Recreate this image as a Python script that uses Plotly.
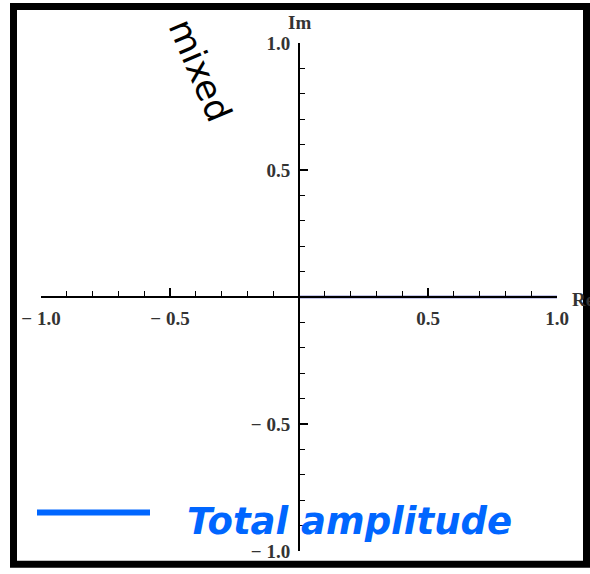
import plotly.graph_objects as go

# Complex-plane amplitude: a single segment from the origin along the real axis
re_vals = [0.0, 1.0]
im_vals = [0.0, 0.0]

major_vals = [-1.0, -0.5, 0.5, 1.0]
major_text = ["\u2212 1.0", "\u2212 0.5", "0.5", "1.0"]
minor_vals = [-0.9, -0.8, -0.7, -0.6, -0.4, -0.3, -0.2, -0.1,
              0.1, 0.2, 0.3, 0.4, 0.6, 0.7, 0.8, 0.9]

series_name = "Total amplitude"
panel_label = "mixed"

W, H = 590, 574
ML, MR, MT, MB = 41, 33, 43, 17
PW, PH = W - ML - MR, H - MT - MB


def px_x(p):
    return (p - ML) / PW


def px_y(p):
    return (H - MB - p) / PH


tick_font = dict(family="Liberation Serif", size=19, color="#333333",
                 weight="bold")

fig = go.Figure()
fig.add_trace(go.Scatter(
    x=re_vals, y=im_vals, mode="lines", name=series_name,
    line=dict(color="#1f22a8", width=2.5), showlegend=False,
))

axis_common = dict(
    range=[-1, 1], showgrid=False, zeroline=False,
    showline=True, linecolor="black", linewidth=2,
    anchor="free", position=0.5,
    tickvals=major_vals, ticktext=major_text,
    ticks="inside", ticklen=8, tickwidth=1.5, tickcolor="black",
    tickfont=tick_font,
    minor=dict(tickvals=minor_vals, ticks="inside", ticklen=5,
               tickwidth=1.2, tickcolor="black"),
    fixedrange=True,
)

fig.update_layout(
    width=W, height=H, autosize=False,
    margin=dict(l=ML, r=MR, t=MT, b=MB),
    paper_bgcolor="white", plot_bgcolor="white",
    xaxis=dict(**axis_common, side="bottom", ticklabelstandoff=4),
    yaxis=dict(**axis_common, side="left", ticklabelstandoff=4),
    showlegend=False,
)

# Axis names
fig.add_annotation(x=0, y=1, xref="x", yref="y", text="Im", showarrow=False,
                   xanchor="center", yanchor="bottom", yshift=8,
                   font=tick_font)
fig.add_annotation(x=1, y=0, xref="x", yref="y", text="Re", showarrow=False,
                   xanchor="left", yanchor="middle", xshift=13, yshift=-2,
                   font=tick_font)

# Rotated panel label
fig.add_annotation(x=px_x(200), y=px_y(70), xref="paper", yref="paper",
                   text=panel_label, showarrow=False, textangle=67,
                   xanchor="center", yanchor="middle",
                   font=dict(family="DejaVu Sans", size=35, color="black"))

# Legend key and label
fig.add_shape(type="line", xref="paper", yref="paper",
              x0=px_x(37), x1=px_x(150), y0=px_y(518), y1=px_y(518),
              line=dict(color="#0066ff", width=6))
fig.add_annotation(x=px_x(185), y=px_y(527), xref="paper", yref="paper",
                   text="<b><i>" + series_name + "</i></b>", showarrow=False,
                   xanchor="left", yanchor="middle",
                   font=dict(family="DejaVu Sans", size=37, color="#0066ff"))

# Heavy outer frame
fig.add_shape(type="rect", xref="paper", yref="paper",
              x0=px_x(13.5), x1=px_x(586.5), y0=px_y(570.5), y1=px_y(6),
              line=dict(color="black", width=7), fillcolor="rgba(0,0,0,0)",
              layer="above")

fig.write_html("out.html", config={"displayModeBar": False})
